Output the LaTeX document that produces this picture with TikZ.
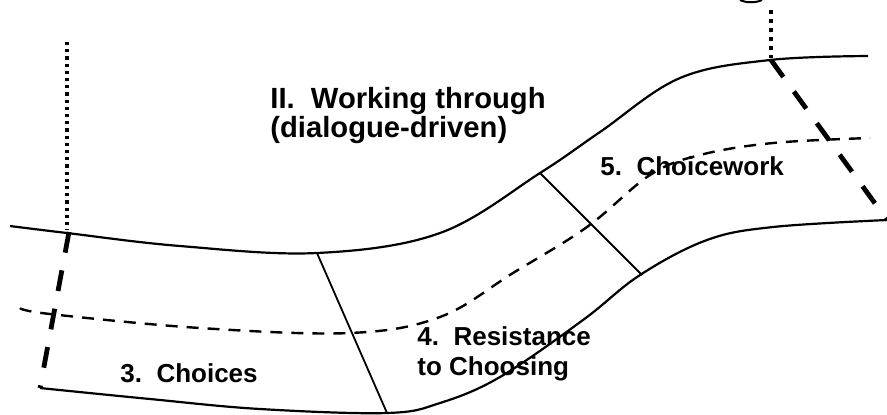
\documentclass[tikz,border=0pt]{standalone}
\usepackage{fontspec}
\setmainfont{Liberation Sans}
\begin{document}
\begin{tikzpicture}[x=0.5pt,y=-0.5pt,
  edge/.style={line width=1.1pt, line join=round},
  sep/.style={line width=0.9pt},
  midline/.style={line width=1.2pt, dash pattern=on 6pt off 4.5pt},
  bigdash/.style={line width=2.4pt, dash pattern=on 10.5pt off 9pt},
  dotsA/.style={line width=1.7pt, dash pattern=on 1.6pt off 2pt},
  dotsB/.style={line width=2.2pt, dash pattern=on 2.2pt off 2.3pt},
  lbl/.style={font=\bfseries\fontsize{13pt}{15pt}\selectfont, anchor=base west, inner sep=0pt},
  ttl/.style={font=\bfseries\fontsize{14.6pt}{15pt}\selectfont, anchor=base west, inner sep=0pt}]
\useasboundingbox (0,0) rectangle (887,414);
% upper boundary
\draw[edge] plot[smooth, tension=0.6] coordinates {(10,226) (67,233) (180,246) (317,253) (440,233) (540,173) (600,132) (680,78) (770,60) (868,56)};
% lower boundary
\draw[edge] plot[smooth, tension=0.6] coordinates {(40,388) (150,399) (260,409) (387,413) (440,403) (500,377) (583,320) (640,275) (707,240) (773,227) (887,220)};
% middle dashed
\draw[midline] plot[smooth, tension=0.6] coordinates {(20,308) (50,314) (200,328) (350,333) (440,317) (513,273) (587,227) (650,175) (700,155) (773,143) (870,138)};
% separators
\coordinate (s1a) at (317,253); \coordinate (s1b) at (387,413);
\coordinate (s2a) at (540,173); \coordinate (s2b) at (642,275);
\draw[sep] (s1a) -- (s1b);
\draw[sep] (s2a) -- (s2b);
% left markers
\coordinate (la) at (67,42); \coordinate (lb) at (67,230);
\coordinate (lc) at (69,232); \coordinate (ld) at (40,388);
\draw[dotsA] (la) -- (lb);
\draw[bigdash] (lc) -- (ld);
% right markers
\coordinate (ra) at (771,10); \coordinate (rb) at (771,58);
\coordinate (rc) at (771,60); \coordinate (rd) at (887,220);
\draw[dotsB] (ra) -- (rb);
\draw[bigdash] (rc) -- (rd);
% fragment at top
\draw[line width=1pt] (740,0) .. controls (746,3) and (756,3) .. (762,0);
% texts
\node[ttl] (t1) at (270,108) {II.\ \ Working through};
\node[ttl] (t2) at (270,137) {(dialogue-driven)};
\node[lbl] (c3) at (120,382) {3.\ \ Choices};
\node[lbl] (c4a) at (417,345) {4.\ \ Resistance};
\node[lbl] (c4b) at (417,375) {to Choosing};
\node[lbl] (c5) at (600,175) {5.\ \ Choicework};
\end{tikzpicture}
\end{document}
